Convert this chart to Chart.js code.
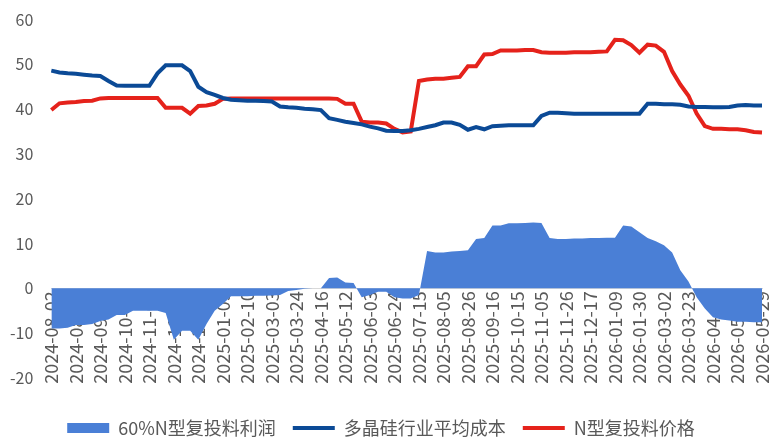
<!DOCTYPE html>
<html>
<head>
<meta charset="utf-8">
<script src="https://cdn.jsdelivr.net/npm/chart.js@4.4.0/dist/chart.umd.min.js"></script>
<style>
  body { margin: 0; background: #fff; }
  #wrap { width: 769px; height: 441px; }
</style>
</head>
<body>
<div id="wrap"><canvas id="myChart"></canvas></div>
<script>
// tick labels, one every 3 weekly points
const tickLabels = ["2024-08-02", "2024-08-23", "2024-09-13", "2024-10-15", "2024-11-06", "2024-11-27",
  "2024-12-18", "2025-01-09", "2025-02-10", "2025-03-03", "2025-03-24", "2025-04-16", "2025-05-12",
  "2025-06-03", "2025-06-24", "2025-07-15", "2025-08-05", "2025-08-26", "2025-09-16", "2025-10-15",
  "2025-11-05", "2025-11-26", "2025-12-17", "2026-01-09", "2026-01-30", "2026-03-02", "2026-03-23",
  "2026-04-14", "2026-05-08", "2026-05-29"];

// 60%N型复投料利润
const profit = [-9.0, -9.0, -8.8, -8.2, -8.2, -8.0, -7.3,
  -7.0, -6.0, -6.0, -5.0, -5.0, -5.0, -5.0,
  -5.5, -11.5, -9.5, -9.5, -11.5,
  -8.0, -5.0, -3.5, -1.8,
  -1.8, -1.8, -1.7, -1.7, -1.6, -1.5,
  -0.6, -0.4, -0.1, 0, 0,
  2.3, 2.4, 1.3, 1.2,
  -2.0, -1.5, -0.8, -0.8, -2.0, -2.3, -2.3, -1.5,
  8.3, 8.0, 8.0, 8.2, 8.3, 8.5,
  11.0, 11.2,
  14.0, 14.0, 14.5, 14.5, 14.6, 14.7, 14.6,
  11.2, 11.0, 11.0, 11.1, 11.1, 11.2, 11.2, 11.3, 11.3,
  14.0, 13.8, 12.5, 11.2, 10.5, 9.6, 8.0, 4.0, 1.5,
  -2.0, -4.5, -6.5, -7.0, -7.2, -7.5, -7.5, -7.6, -7.6];

// 多晶硅行业平均成本
const cost = [48.6, 48.2, 48.0, 47.9, 47.7, 47.5, 47.4,
  46.3,
  45.3, 45.2, 45.2, 45.2, 45.2,
  48.0,
  49.8, 49.8, 49.8,
  48.5, 45.0, 43.8, 43.2, 42.5, 42.1,
  42.0, 41.9, 41.9, 41.8, 41.7,
  40.6, 40.4, 40.3, 40.1, 40.0, 39.8,
  38.0, 37.6, 37.2, 36.9, 36.6, 36.1, 35.7, 35.2,
  35.1, 35.1, 35.3,
  35.6, 36.0, 36.4, 37.0, 37.0,
  36.5, 35.4, 36.0, 35.5, 36.2,
  36.3, 36.4, 36.4, 36.4, 36.4,
  38.5, 39.2, 39.2,
  39.1, 39.0, 39.0, 39.0, 39.0, 39.0, 39.0, 39.0, 39.0, 39.0,
  41.2, 41.2, 41.1, 41.1, 41.0,
  40.6, 40.5, 40.5, 40.4, 40.4, 40.5, 40.8, 40.9, 40.8, 40.8];

// N型复投料价格
const price = [39.8, 41.3, 41.5, 41.6, 41.8, 41.9, 42.4,
  42.5, 42.5, 42.5, 42.5, 42.5, 42.5, 42.5,
  40.3, 40.3, 40.3,
  39.0,
  40.7, 40.8, 41.2, 42.3,
  42.4, 42.4, 42.4, 42.4, 42.4, 42.4, 42.4, 42.4, 42.4, 42.4, 42.4, 42.4, 42.4, 42.3,
  41.2, 41.2,
  37.2, 37.0, 37.0, 36.8,
  35.6, 34.8, 35.0,
  46.3, 46.6, 46.8, 46.8, 47.0, 47.2,
  49.6, 49.6,
  52.2, 52.3,
  53.1, 53.1, 53.1, 53.2, 53.2,
  52.7, 52.6, 52.6, 52.6, 52.7, 52.7, 52.7, 52.8, 52.9,
  55.5, 55.4, 54.3, 52.6, 54.4, 54.2, 52.8,
  48.5, 45.5, 43.0, 39.0, 36.2,
  35.6, 35.6, 35.5, 35.5, 35.3, 34.9, 34.8];

const weeks = profit.map((_, i) => i);
const textColor = "#595959";
const fontFamily = "'Noto Sans CJK SC', 'Noto Sans', sans-serif";

new Chart("myChart", {
  type: "line",
  data: {
    labels: weeks,
    datasets: [{
      label: "60%N型复投料利润",
      data: profit,
      fill: "origin",
      backgroundColor: "#4a7fd6",
      borderWidth: 0,
      pointRadius: 0,
      pointStyle: "rect"
    }, {
      label: "多晶硅行业平均成本",
      data: cost,
      borderColor: "#0b4a96",
      backgroundColor: "#0b4a96",
      borderWidth: 4,
      pointRadius: 0,
      pointStyle: "line"
    }, {
      label: "N型复投料价格",
      data: price,
      borderColor: "#e5221b",
      backgroundColor: "#e5221b",
      borderWidth: 4,
      pointRadius: 0,
      pointStyle: "line"
    }]
  },
  options: {
    responsive: true,
    maintainAspectRatio: false,
    animation: false,
    layout: { padding: { top: 4, right: 7, left: 0, bottom: -6 } },
    plugins: {
      tooltip: { enabled: false },
      legend: {
        position: "bottom",
        title: { display: true, text: "", padding: { top: 23, bottom: 0 }, font: { size: 1 } },
        labels: {
          usePointStyle: true,
          pointStyleWidth: 42,
          boxHeight: 10,
          padding: 17,
          color: textColor,
          font: { family: fontFamily, size: 18 }
        }
      }
    },
    scales: {
      x: {
        position: { y: 0 },
        grid: { display: false, drawTicks: false },
        border: { display: true, color: "#d9d9d9", width: 1 },
        afterFit: function (scale) {
          scale.paddingLeft = 0;
          scale.paddingRight = 0;
        },
        ticks: {
          autoSkip: false,
          minRotation: 90,
          maxRotation: 90,
          padding: 3,
          color: textColor,
          font: { family: fontFamily, size: 18 },
          callback: function (value, index) {
            return index % 3 === 0 ? tickLabels[index / 3] : "";
          }
        }
      },
      y: {
        min: -20,
        max: 60,
        grid: { display: false },
        border: { display: false },
        ticks: {
          stepSize: 10,
          padding: 10,
          color: textColor,
          font: { family: fontFamily, size: 16 }
        }
      }
    }
  }
});
</script>
</body>
</html>
